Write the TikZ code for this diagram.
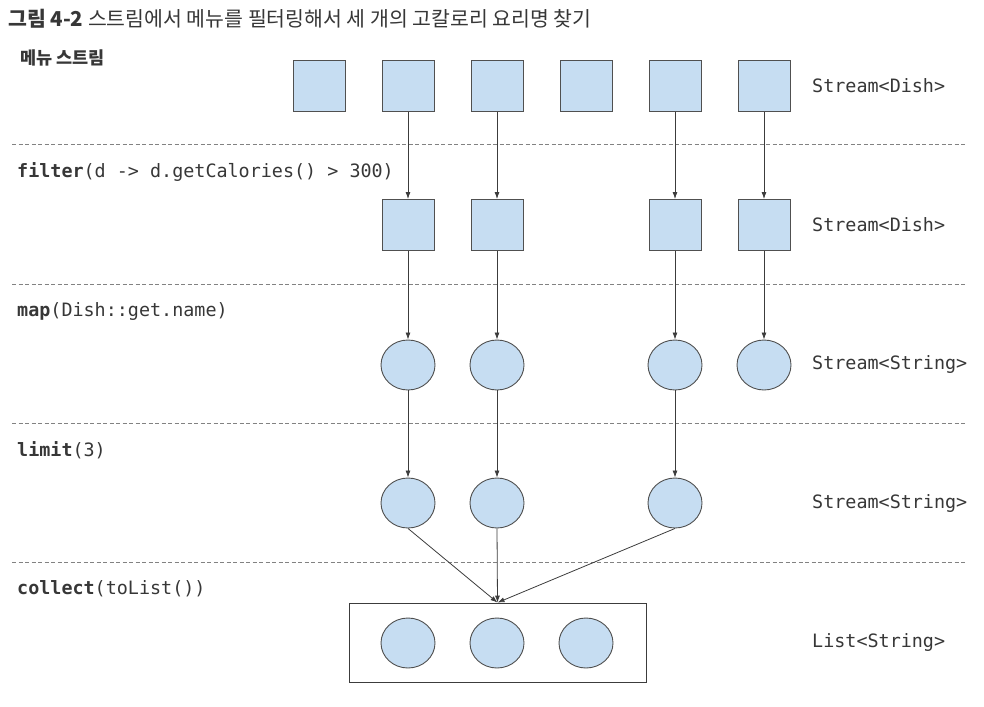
\documentclass[tikz,border=0pt]{standalone}
\usepackage{fontspec}
\setmonofont{DejaVu Sans Mono}
\newfontfamily\krfont{Noto Sans CJK KR}
\usetikzlibrary{arrows.meta,shapes.geometric}
\definecolor{dishblue}{RGB}{198,221,242}
\definecolor{edgegray}{RGB}{80,80,80}
\definecolor{linegray}{RGB}{60,60,60}
\definecolor{dashgray}{RGB}{130,130,130}
\definecolor{textgray}{RGB}{55,55,55}
\tikzset{
  dishbox/.style={draw=edgegray, fill=dishblue, line width=0.9pt, minimum width=52pt, minimum height=51pt, inner sep=0pt},
  namedot/.style={ellipse, draw=edgegray, fill=dishblue, line width=0.9pt, minimum width=54pt, minimum height=50pt, inner sep=0pt},
  flow/.style={draw=linegray, line width=0.8pt, -{Latex[length=7pt,width=5pt]}},
  stage/.style={draw=dashgray, line width=0.9pt, dash pattern=on 4pt off 2.5pt},
  opname/.style={font=\fontsize{18.4}{20}\selectfont\ttfamily, text=textgray, anchor=west, inner sep=0pt},
}
\begin{document}
\begin{tikzpicture}[x=1pt,y=-1pt]%
\useasboundingbox (0,0) rectangle (984,706);%
\node[font=\krfont\fontsize{20.5}{24}\selectfont, text=textgray, anchor=west, inner sep=0pt] (title) at (8,19) {\textbf{그림 4-2} 스트림에서 메뉴를 필터링해서 세 개의 고칼로리 요리명 찾기};%
\node[font=\krfont\bfseries\fontsize{17.5}{20}\selectfont, text=textgray, anchor=west, inner sep=0pt] (menu) at (20,58) {메뉴 스트림};%
% stage separators
\foreach \y in {144,284,423,562}
  \draw[stage] (12,\y) -- (966,\y);%
% operation labels
\node[opname] (filterop) at (17,172) {\textbf{filter}(d -> d.getCalories() > 300)};%
\node[opname] (mapop) at (17,311) {\textbf{map}(Dish::get.name)};%
\node[opname] (limitop) at (17,450) {\textbf{limit}(3)};%
\node[opname] (collectop) at (17,589) {\textbf{collect}(toList())};%
% stream types
\node[opname] (typea) at (812,86) {Stream<Dish>};%
\node[opname] (typeb) at (812,225) {Stream<Dish>};%
\node[opname] (typec) at (812,364) {Stream<String>};%
\node[opname] (typed) at (812,503) {Stream<String>};%
\node[opname] (typee) at (812,642) {List<String>};%
% menu stream
\foreach \i/\x in {1/319,2/408,3/497,4/586,5/675,6/764}
  \node[dishbox] (dish\i) at (\x,86) {};%
% filtered dishes
\foreach \i/\x in {2/408,3/497,5/675,6/764}
  \node[dishbox] (hot\i) at (\x,225) {};%
% dish names
\foreach \i/\x in {2/408,3/497,5/675,6/764}
  \node[namedot] (name\i) at (\x,365) {};%
% first three
\foreach \i/\x in {2/408,3/497,5/675}
  \node[namedot] (first\i) at (\x,503) {};%
% result list
\node[draw=linegray, line width=0.8pt, minimum width=297pt, minimum height=79pt, inner sep=0pt] (result) at (497.5,642.5) {};%
\foreach \i/\x in {1/408,2/497,3/586}
  \node[namedot] (item\i) at (\x,643) {};%
% arrows
\foreach \i in {2,3,5,6}{
  \draw[flow] (dish\i) -- (hot\i);
  \draw[flow] (hot\i) -- (name\i);
}%
\foreach \i in {2,3,5}{
  \draw[flow] (name\i) -- (first\i);
  \draw[flow] (first\i.south) -- (result.north);
}%
\end{tikzpicture}
\end{document}
